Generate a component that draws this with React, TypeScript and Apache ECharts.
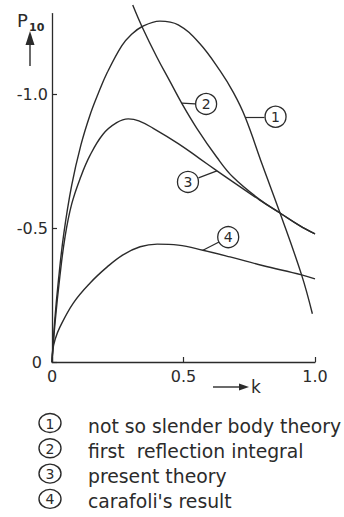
import React, { useEffect, useRef } from 'react';
import * as echarts from 'echarts';

const kTicks = [0, 0.5, 1.0];
const pTicks = [-1.0, -0.5, 0];

// 1: not so slender body theory
const curve1K = [0, 0.01, 0.025, 0.045, 0.075, 0.11, 0.144, 0.175, 0.21, 0.265, 0.3, 0.34, 0.41, 0.48, 0.56, 0.64, 0.69, 0.734, 0.8, 0.867, 0.949, 0.99];
const curve1P = [0, -0.15, -0.31, -0.48, -0.66, -0.81, -0.92, -1.0, -1.08, -1.18, -1.22, -1.25, -1.272, -1.258, -1.19, -1.085, -1.005, -0.915, -0.735, -0.556, -0.325, -0.18];
// 2: first reflection integral
const curve2K = [0.307, 0.341, 0.398, 0.449, 0.493, 0.55, 0.626, 0.688, 0.79, 0.867, 0.94, 1.0];
const curve2P = [-1.332, -1.254, -1.139, -1.046, -0.966, -0.873, -0.765, -0.69, -0.606, -0.556, -0.51, -0.478];
// 3: present theory
const curve3K = [0, 0.012, 0.03, 0.05, 0.075, 0.109, 0.144, 0.194, 0.246, 0.29, 0.33, 0.385, 0.48, 0.56, 0.626, 0.688, 0.79, 0.867, 0.94, 1.0];
const curve3P = [0, -0.15, -0.32, -0.47, -0.59, -0.69, -0.77, -0.85, -0.893, -0.907, -0.9, -0.872, -0.815, -0.76, -0.714, -0.672, -0.604, -0.556, -0.51, -0.478];
// 4: carafoli's result
const curve4K = [0, 0.003, 0.012, 0.03, 0.081, 0.145, 0.21, 0.27, 0.335, 0.4, 0.48, 0.574, 0.677, 0.8, 0.949, 1.0];
const curve4P = [0, -0.045, -0.085, -0.13, -0.22, -0.295, -0.355, -0.4, -0.43, -0.44, -0.436, -0.417, -0.392, -0.36, -0.325, -0.31];

const labelNumbers = ['1', '2', '3', '4'];
const labelNames = ['not so slender body theory', 'first  reflection integral', 'present theory', "carafoli's result"];

// callout anchors (data coordinates)
const calloutStartK = [0.734, 0.494, 0.627, 0.574];
const calloutStartP = [-0.915, -0.966, -0.713, -0.417];
const calloutEndK = [0.808, 0.544, 0.557, 0.635];
const calloutEndP = [-0.915, -0.963, -0.687, -0.448];
const calloutCircleK = [0.85, 0.586, 0.517, 0.67];
const calloutCircleP = [-0.915, -0.963, -0.672, -0.466];

const INK = '#2b2b2b';
const FONT = 'DejaVu Sans';

const curves = [
  [curve1K, curve1P],
  [curve2K, curve2P],
  [curve3K, curve3P],
  [curve4K, curve4P],
];

export default function App() {
  const ref = useRef<HTMLDivElement>(null);
  useEffect(() => {
    if (!ref.current) return;
    const chart = echarts.init(ref.current, undefined, { renderer: 'svg' });
    const series = curves.map(([ks, ps], i) => ({
      type: 'line',
      name: labelNames[i],
      data: ks.map((k, j) => [k, ps[j]]),
      showSymbol: false,
      symbol: 'none',
      smooth: 0.4,
      clip: false,
      lineStyle: { color: INK, width: 1.4 },
      z: 2,
      markLine: {
        silent: true,
        symbol: ['none', 'none'],
        label: { show: false },
        lineStyle: { color: INK, width: 1.2, type: 'solid' },
        data: [[
          { coord: [calloutStartK[i], calloutStartP[i]] },
          { coord: [calloutEndK[i], calloutEndP[i]] },
        ]],
      },
      markPoint: {
        silent: true,
        symbol: 'circle',
        symbolSize: 21,
        itemStyle: { color: '#fff', borderColor: INK, borderWidth: 1.3 },
        label: { show: true, position: 'inside', formatter: labelNumbers[i], color: INK, fontSize: 14, fontFamily: FONT },
        data: [{ coord: [calloutCircleK[i], calloutCircleP[i]] }],
      },
    }));

    const graphics: any[] = [
      { type: 'text', left: 17, top: 11, style: { text: 'P', fontSize: 18, fontFamily: FONT, fill: INK } },
      { type: 'text', left: 29, top: 22, style: { text: '10', fontSize: 11, fontFamily: FONT, fill: INK, fontWeight: 'bold' } },
      { type: 'line', shape: { x1: 30, y1: 66, x2: 30, y2: 43 }, style: { stroke: INK, lineWidth: 1.4 } },
      { type: 'polygon', shape: { points: [[25.5, 45], [34.5, 45], [30, 31]] }, style: { fill: INK } },
      { type: 'line', shape: { x1: 213, y1: 387, x2: 241, y2: 387 }, style: { stroke: INK, lineWidth: 1.4 } },
      { type: 'polygon', shape: { points: [[239, 383.5], [239, 390.5], [249, 387]] }, style: { fill: INK } },
      { type: 'text', x: 251, y: 387, style: { text: 'k', fontSize: 17, fontFamily: FONT, fill: INK, verticalAlign: 'middle' } },
    ];
    labelNames.forEach((name, i) => {
      const cy = 423 + 25.3 * i;
      graphics.push({ type: 'ellipse', shape: { cx: 50, cy, rx: 11, ry: 9.5 }, style: { fill: 'none', stroke: INK, lineWidth: 1.4 } });
      graphics.push({ type: 'text', x: 50, y: cy + 0.5, style: { text: labelNumbers[i], fontSize: 14, fontFamily: FONT, fill: INK, align: 'center', verticalAlign: 'middle' } });
      graphics.push({ type: 'text', x: 88, y: cy + 3, style: { text: name, fontSize: 18.8, fontFamily: FONT, fill: INK, verticalAlign: 'middle' } });
    });

    chart.setOption({
      animation: false,
      backgroundColor: '#fff',
      textStyle: { fontFamily: FONT },
      grid: { left: 52, right: 29, top: 362 - 1.3 * 268, bottom: 155, containLabel: false, outerBoundsMode: 'none' },
      xAxis: {
        type: 'value', min: 0, max: 1,
        axisLine: { show: true, lineStyle: { color: INK, width: 1.3 } },
        axisTick: { show: true, inside: true, length: 5, customValues: kTicks, lineStyle: { color: INK, width: 1.2 } },
        axisLabel: { customValues: kTicks, formatter: (v: number) => (v === 0 ? '0' : v.toFixed(1)), fontSize: 16, color: INK, margin: 6, fontFamily: FONT },
        splitLine: { show: false },
      },
      yAxis: {
        type: 'value', min: -1.3, max: 0, inverse: true,
        axisLine: { show: true, onZero: false, lineStyle: { color: INK, width: 1.3 } },
        axisTick: { show: true, inside: true, length: 5, customValues: pTicks, lineStyle: { color: INK, width: 1.2 } },
        axisLabel: {
          customValues: pTicks,
          formatter: (v: number) => (v === 0 ? '{z|0}' : v.toFixed(1)),
          rich: { z: { fontSize: 16, color: INK, fontFamily: FONT, padding: [0, 6, 0, 0] } },
          fontSize: 16, color: INK, margin: 4, fontFamily: FONT,
        },
        splitLine: { show: false },
      },
      series,
      graphic: graphics,
    });
    return () => chart.dispose();
  }, []);
  return <div ref={ref} style={{ position: 'absolute', left: 0, top: 0, width: 344, height: 517 }} />;
}
